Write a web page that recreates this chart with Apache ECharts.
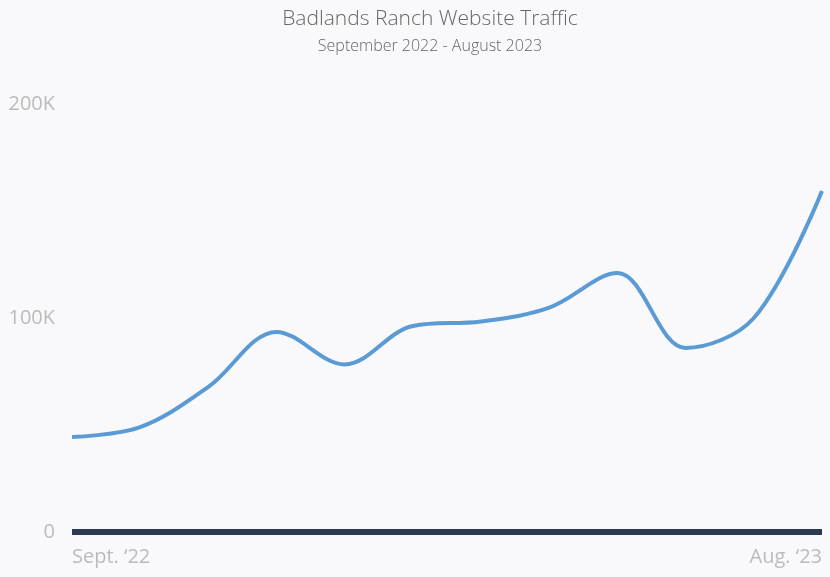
<!DOCTYPE html>
<html><head><meta charset="utf-8">
<script src="https://cdn.jsdelivr.net/npm/echarts@6/dist/echarts.min.js"></script>
<style>html,body{margin:0;padding:0;background:#f9f9fc}#c{width:830px;height:577px}</style>
</head><body><div id="c"></div>
<script>
const months = ['Sept. ‘22','Oct. ‘22','Nov. ‘22','Dec. ‘22','Jan. ‘23','Feb. ‘23','Mar. ‘23','Apr. ‘23','May ‘23','Jun. ‘23','Jul. ‘23','Aug. ‘23'];
const visits = [44400, 49000, 67800, 93500, 78300, 96300, 98400, 104800, 121000, 86000, 100000, 159300];
const yTicks = [0, 100000, 200000];

const chart = echarts.init(document.getElementById('c'));
chart.setOption({
  backgroundColor: '#f9f9fc',
  title: [
    {text: 'Badlands Ranch Website Traffic', left: 425, textAlign: 'center', top: 4,
     textStyle: {fontFamily: 'Open Sans', fontWeight: 300, fontSize: 21, color: '#666'}},
    {text: 'September 2022 - August 2023', left: 425, textAlign: 'center', top: 33,
     textStyle: {fontFamily: 'Open Sans', fontWeight: 300, fontSize: 16, color: '#666'}}
  ],
  grid: {left: 72, right: 8, top: 104, bottom: 45},
  xAxis: {
    type: 'category', data: months, boundaryGap: false,
    axisLine: {lineStyle: {color: '#2a3a50', width: 6, cap: 'butt'}},
    axisTick: {show: false},
    axisLabel: {
      interval: (i) => i === 0 || i === months.length - 1,
      alignMinLabel: 'left', alignMaxLabel: 'right',
      fontFamily: 'Open Sans', fontSize: 20, color: '#bbb', margin: 15
    }
  },
  yAxis: {
    type: 'value', min: yTicks[0], max: yTicks[yTicks.length - 1], interval: 100000,
    axisLine: {show: false}, axisTick: {show: false}, splitLine: {show: false},
    axisLabel: {
      formatter: (v) => v === 0 ? '0' : (v / 1000) + 'K',
      fontFamily: 'Open Sans', fontSize: 20, color: '#bbb', margin: 17
    }
  },
  series: [{
    type: 'line', data: visits, smooth: 0.35, symbol: 'none',
    lineStyle: {color: '#5b9bd5', width: 4}
  }]
});
</script></body></html>
